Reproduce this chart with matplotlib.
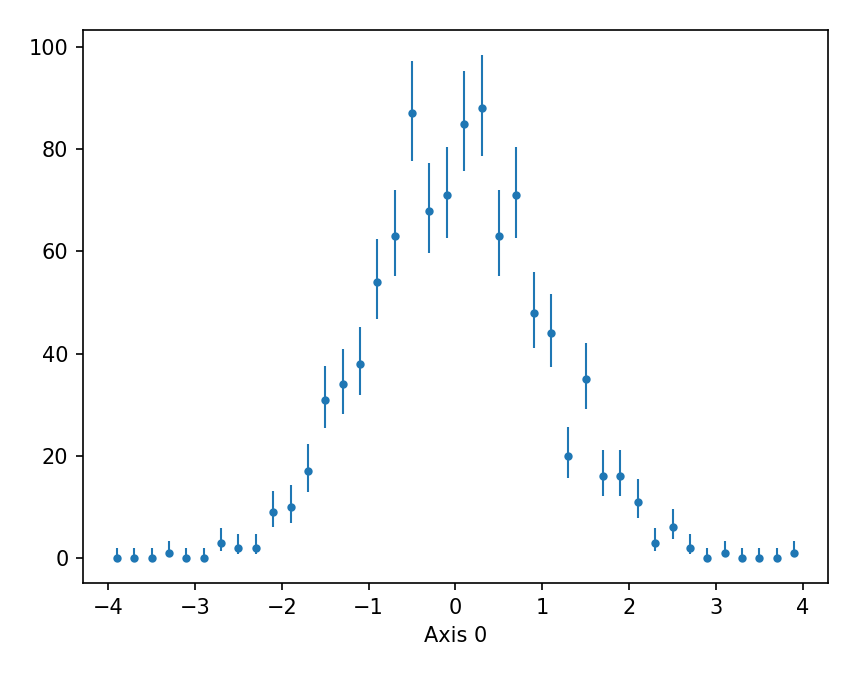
import math
import matplotlib.pyplot as plt

# bin centres of a 40-bin histogram on [-4, 4]
centers = [-3.9, -3.7, -3.5, -3.3, -3.1, -2.9, -2.7, -2.5, -2.3, -2.1,
           -1.9, -1.7, -1.5, -1.3, -1.1, -0.9, -0.7, -0.5, -0.3, -0.1,
           0.1, 0.3, 0.5, 0.7, 0.9, 1.1, 1.3, 1.5, 1.7, 1.9,
           2.1, 2.3, 2.5, 2.7, 2.9, 3.1, 3.3, 3.5, 3.7, 3.9]
counts = [0, 0, 0, 1, 0, 0, 3, 2, 2, 9,
          10, 17, 31, 34, 38, 54, 63, 87, 68, 71,
          85, 88, 63, 71, 48, 44, 20, 35, 16, 16,
          11, 3, 6, 2, 0, 1, 0, 0, 0, 1]


def pois_cdf(k, mu):
    # P(X <= k)
    if mu <= 0:
        return 1.0
    s = 0.0
    for i in range(k + 1):
        s += math.exp(i * math.log(mu) - mu - math.lgamma(i + 1))
    return s


def bisect(f, lo, hi):
    for _ in range(100):
        mid = 0.5 * (lo + hi)
        if f(mid) > 0:
            lo = mid
        else:
            hi = mid
    return 0.5 * (lo + hi)


def poisson_interval(n, alpha=0.1586552539):
    # central 68% interval (Garwood)
    if n == 0:
        lo = 0.0
    else:
        lo = bisect(lambda m: alpha - (1 - pois_cdf(n - 1, m)), 0.0, n + 10)
    hi = bisect(lambda m: pois_cdf(n, m) - alpha, 0.0, n + 10 * math.sqrt(n + 1) + 10)
    return lo, hi


err_lo = []
err_hi = []
for n in counts:
    lo, hi = poisson_interval(n)
    err_lo.append(n - lo)
    err_hi.append(hi - n)

fig = plt.figure(figsize=(857 / 150, 679 / 150), dpi=150)
ax = fig.add_axes([83 / 857, 96 / 679, 745 / 857, 553 / 679])

ax.errorbar(centers, counts, yerr=[err_lo, err_hi], fmt='o', ms=3,
            elinewidth=1, color='#1f77b4')
ax.set_xlabel('Axis 0')
ax.set_xticks([-4, -3, -2, -1, 0, 1, 2, 3, 4])
ax.set_yticks([0, 20, 40, 60, 80, 100])

plt.savefig('out.png', dpi=150)
